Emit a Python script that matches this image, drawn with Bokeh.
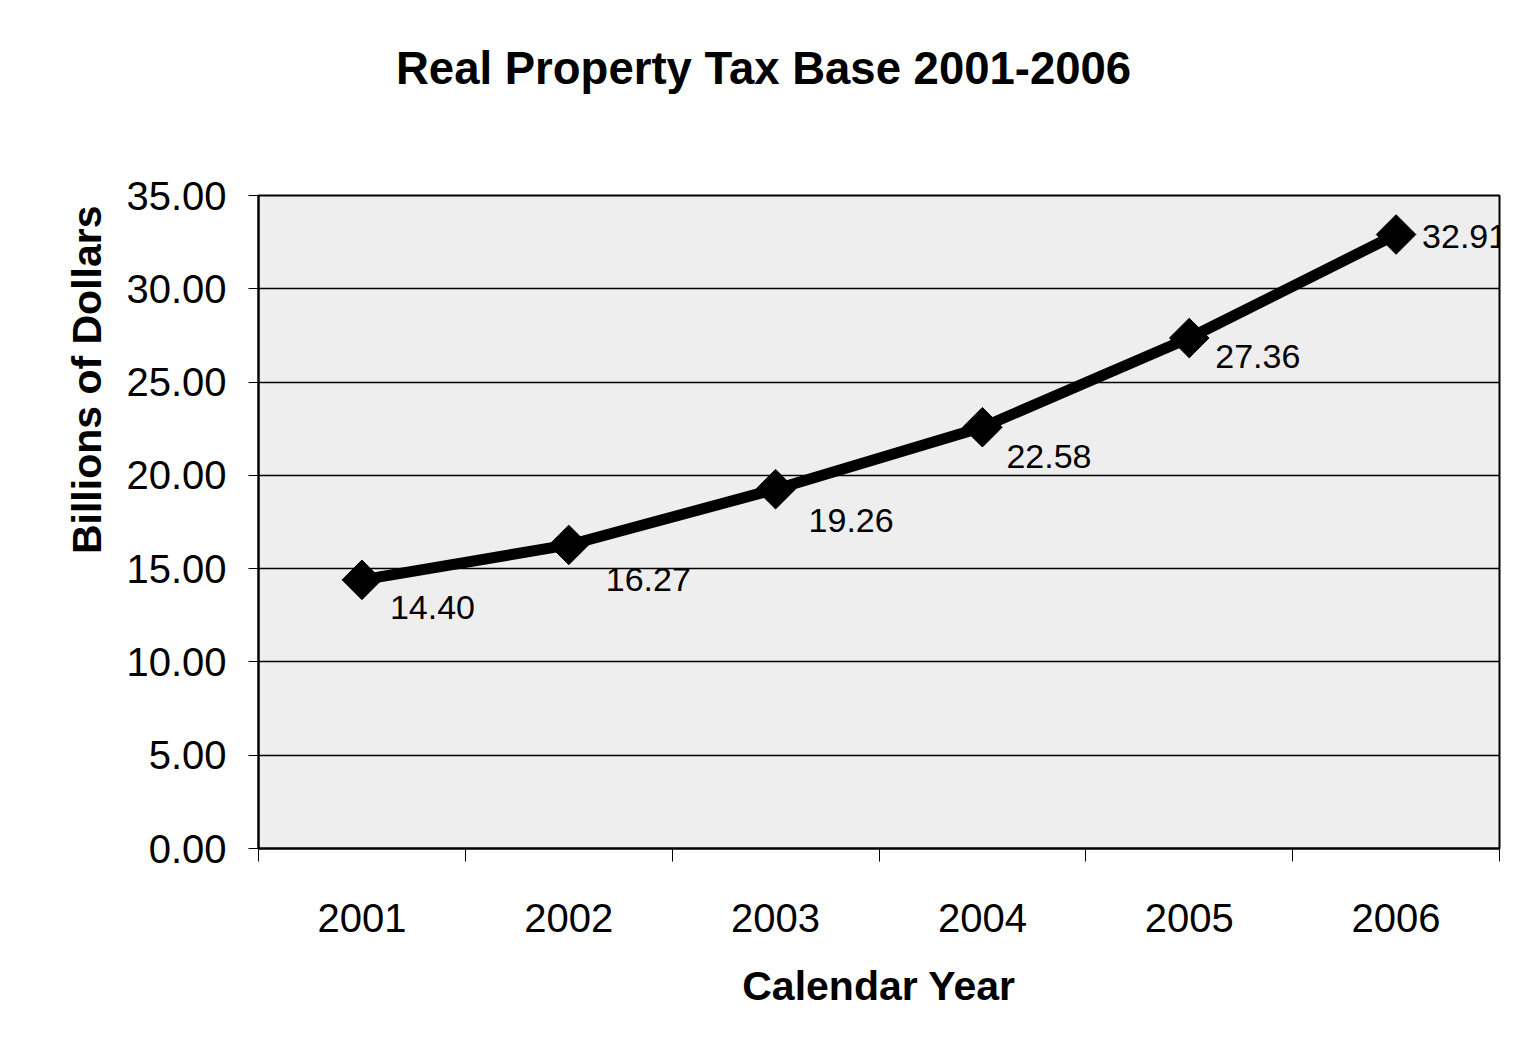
import numpy as np
from bokeh.plotting import figure
from bokeh.layouts import column
from bokeh.models import (ColumnDataSource, Range1d, FixedTicker, LabelSet, Title,
                          PrintfTickFormatter, Div)
from bokeh.core.properties import value
from bokeh.embed import file_html
from bokeh.resources import INLINE

# ---- data ----
chart_title = "Real Property Tax Base 2001-2006"
years = ["2001", "2002", "2003", "2004", "2005", "2006"]
values = [14.40, 16.27, 19.26, 22.58, 27.36, 32.91]
value_labels = ["14.40", "16.27", "19.26", "22.58", "27.36", "32.91"]
y_ticks = [0, 5, 10, 15, 20, 25, 30, 35]

# ---- label placement (styling) ----
label_dx = [28, 37, 33, 24, 26, 26]
label_dy = [-28, -35, -31, -29, -18, -2]

xs = list(range(1, len(years) + 1))
src = ColumnDataSource(dict(x=xs, y=values, lab=value_labels, dx=label_dx, dy=label_dy))

FONT = "Liberation Sans"
HEAD = 140

head = Div(text=chart_title, width=1518, height=HEAD, margin=0,
           styles={"position": "relative"},
           stylesheets=[":host { overflow: visible; } div { position: absolute; left: 396px; top: 36px; "
                        "font-family: 'Liberation Sans'; font-weight: bold; font-size: 45.5px; "
                        "color: black; white-space: nowrap; }"])

p = figure(width=1518, height=1058 - HEAD, output_backend="svg", toolbar_location=None,
           x_range=Range1d(0.5, len(years) + 0.5), y_range=Range1d(0, 35),
           min_border_left=258, min_border_right=19, min_border_top=195 - HEAD,
           min_border_bottom=210, margin=0)

p.background_fill_color = "#eeeeee"
p.border_fill_color = "white"
p.outline_line_color = "black"
p.outline_line_width = 2

# x axis
p.xaxis.ticker = FixedTicker(ticks=xs, minor_ticks=[i + 0.5 for i in range(0, len(years) + 1)])
p.xaxis.major_label_overrides = {x: y for x, y in zip(xs, years)}
p.xaxis.major_tick_line_color = None
p.xaxis.minor_tick_line_color = "black"
p.xaxis.minor_tick_out = 13
p.xaxis.minor_tick_in = 0
p.xaxis.major_label_standoff = 42
p.xaxis.axis_line_width = 2
p.xaxis.major_label_text_font = FONT
p.xaxis.major_label_text_font_size = "40px"
p.xaxis.major_label_text_color = "black"
p.xaxis.axis_label = "Calendar Year"
p.xaxis.axis_label_text_font = FONT
p.xaxis.axis_label_text_font_size = "41px"
p.xaxis.axis_label_text_font_style = "bold"
p.xaxis.axis_label_text_color = "black"
p.xaxis.axis_label_standoff = 28

# y axis
p.yaxis.ticker = FixedTicker(ticks=y_ticks)
p.yaxis.formatter = PrintfTickFormatter(format="%.2f")
p.yaxis.minor_tick_line_color = None
p.yaxis.major_tick_out = 10
p.yaxis.major_tick_in = 0
p.yaxis.major_label_standoff = 22
p.yaxis.axis_line_width = 2
p.yaxis.major_label_text_font = FONT
p.yaxis.major_label_text_font_size = "40px"
p.yaxis.major_label_text_color = "black"

# y-axis title, aligned toward the top as in the original
ytitle = Title(text="Billions of Dollars", align="right", offset=10, standoff=28,
               text_font=FONT, text_font_size="41px", text_font_style="bold",
               text_color="black")
p.add_layout(ytitle, "left")

p.xgrid.grid_line_color = None
p.ygrid.grid_line_color = "black"
p.ygrid.grid_line_width = 1.5
p.ygrid.grid_line_alpha = 1.0

p.line("x", "y", source=src, line_color="black", line_width=11)
p.scatter("x", "y", source=src, marker="square", angle=np.pi / 4, size=28,
          fill_color="black", line_color="black")

labels = LabelSet(x="x", y="y", text="lab", source=src, x_offset="dx", y_offset="dy",
                  text_font=value(FONT), text_font_size=value("34px"), text_color="black",
                  text_align="left", text_baseline="middle")
p.add_layout(labels)

layout = column(head, p, spacing=0, margin=0)

open("out.html", "w").write(file_html(layout, INLINE))
